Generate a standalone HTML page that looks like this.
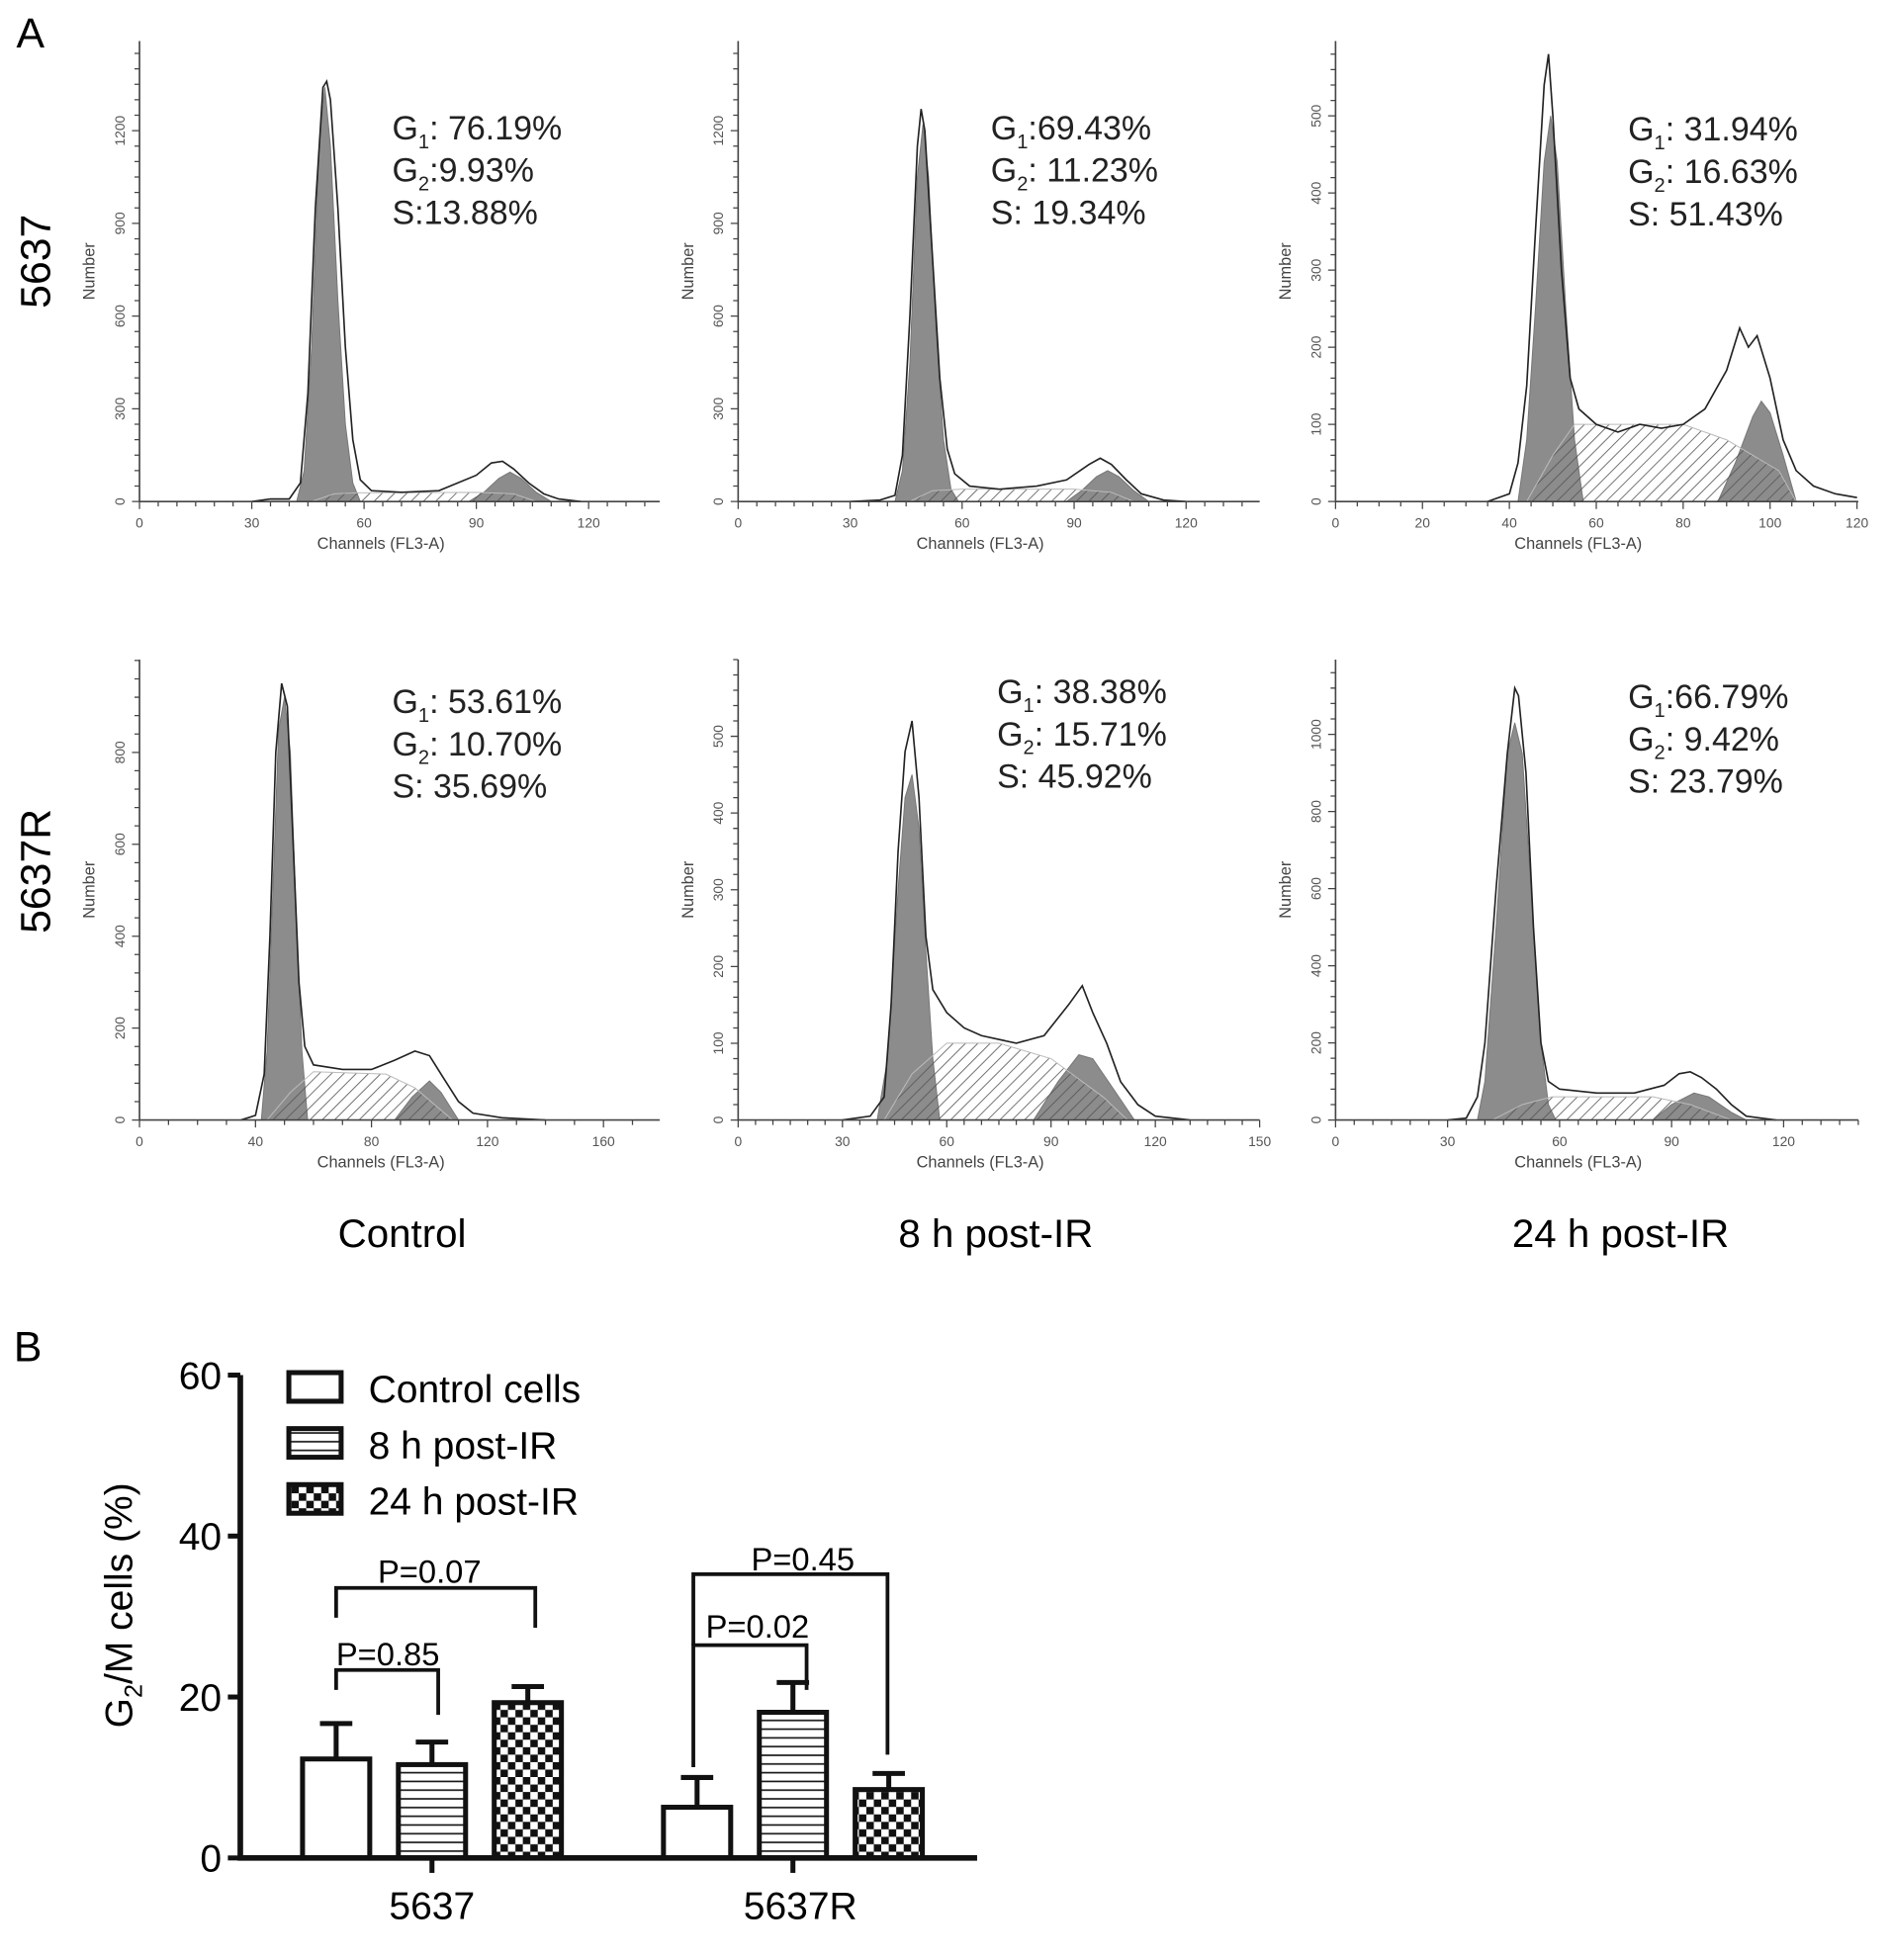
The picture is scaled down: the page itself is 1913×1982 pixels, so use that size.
<!DOCTYPE html>
<html><head><meta charset="utf-8">
<style>
html,body{margin:0;padding:0;background:#fff;}
svg{display:block;font-family:"Liberation Sans",Arial,sans-serif;}
</style></head>
<body>
<svg id="fig" width="1913" height="1982" viewBox="0 0 1520 1575" xmlns="http://www.w3.org/2000/svg">
<defs>
<pattern id="hatch" patternUnits="userSpaceOnUse" width="7" height="7" patternTransform="rotate(45)">
<line x1="0" y1="0" x2="0" y2="7" stroke="#555" stroke-width="1.3"/>
</pattern>
<pattern id="hlines" patternUnits="userSpaceOnUse" width="8" height="7">
<line x1="0" y1="3.5" x2="8" y2="3.5" stroke="#111" stroke-width="1.3"/>
</pattern>
<pattern id="checker" patternUnits="userSpaceOnUse" width="12" height="12">
<rect x="0" y="0" width="12" height="12" fill="#fff"/>
<rect x="0" y="0" width="6" height="6" fill="#111"/>
<rect x="6" y="6" width="6" height="6" fill="#111"/>
</pattern>
</defs>
<text x="13" y="38" font-size="34">A</text>
<text x="11" y="1094" font-size="34">B</text>
<text transform="translate(40,210) rotate(-90)" text-anchor="middle" font-size="34">5637</text>
<text transform="translate(40,700) rotate(-90)" text-anchor="middle" font-size="34">5637R</text>
<text x="323" y="1002" text-anchor="middle" font-size="32">Control</text>
<text x="800" y="1002" text-anchor="middle" font-size="32">8 h post-IR</text>
<text x="1302" y="1002" text-anchor="middle" font-size="32">24 h post-IR</text>
<g id="hists"></g>
<g id="bars"></g>
</svg>
<script>
// ---------- Histogram data (channel, count) ----------
const p1Outline=[[30,0],[35,8],[40,8],[43,60],[45,350],[47,950],[49,1340],[50,1360],[51,1300],[53,950],[55,500],[57,200],[59,70],[62,35],[70,30],[80,35],[85,60],[90,85],[94,125],[97,130],[100,105],[104,60],[108,25],[112,8],[118,0]];
const p1G1=[[42,0],[44,100],[46,500],[48,1150],[49.5,1340],[51,1150],[53,650],[55,250],[57,60],[59,0]];
const p1G2=[[88,0],[92,30],[96,75],[99,95],[102,75],[106,30],[110,0]];
const p1S=[[46,0],[52,25],[58,28],[90,30],[100,25],[106,0]];
const p2Outline=[[30,0],[38,5],[42,20],[44,150],[46,600],[48,1150],[49,1270],[50,1200],[52,800],[54,400],[56,170],[58,90],[62,50],[70,40],[80,50],[88,70],[94,120],[97,140],[100,120],[104,70],[108,25],[114,5],[120,0]];
const p2G1=[[42,0],[44,100],[46,450],[48,1050],[49.5,1220],[51,1050],[53,550],[55,200],[57,40],[59,0]];
const p2G2=[[88,0],[92,35],[96,80],[99,100],[102,80],[106,35],[110,0]];
const p2S=[[46,0],[52,35],[60,40],[90,40],[100,30],[106,0]];
const p3Outline=[[35,0],[40,10],[42,50],[44,150],[46,350],[48,540],[49,580],[50,500],[52,300],[54,160],[56,120],[60,100],[65,90],[70,100],[75,95],[80,100],[85,120],[90,170],[93,225],[95,200],[97,215],[100,160],[103,80],[106,40],[110,20],[115,10],[120,5]];
const p3G1=[[42,0],[44,80],[46,250],[48,440],[49.5,500],[51,440],[53,250],[55,80],[57,0]];
const p3G2=[[88,0],[92,50],[96,110],[98,130],[100,115],[103,60],[106,0]];
const p3S=[[44,0],[50,60],[55,100],[80,100],[90,80],[102,40],[106,0]];
const p4Outline=[[35,0],[40,10],[43,100],[45,400],[47,800],[49,950],[51,900],[53,600],[55,300],[57,160],[60,120],[70,110],[80,110],[88,130],[95,150],[100,140],[105,90],[110,40],[115,15],[125,5],[140,0]];
const p4G1=[[42,0],[44,150],[46,500],[48,850],[50,920],[52,800],[54,450],[56,150],[58,0]];
const p4G2=[[88,0],[94,50],[100,85],[104,60],[110,0]];
const p4S=[[44,0],[52,60],[60,105],[85,100],[95,70],[108,0]];
const p5Outline=[[30,0],[38,5],[42,30],[44,150],[46,350],[48,480],[50,520],[52,420],[54,240],[56,170],[60,140],[65,120],[70,110],[80,100],[88,110],[95,150],[99,175],[102,140],[106,100],[110,50],[115,20],[120,5],[130,0]];
const p5G1=[[40,0],[43,80],[46,300],[48,420],[50,450],[52,380],[54,220],[56,80],[58,0]];
const p5G2=[[85,0],[92,50],[98,85],[102,80],[108,40],[114,0]];
const p5S=[[42,0],[50,60],[60,100],[75,100],[90,80],[105,30],[112,0]];
const p6Outline=[[30,0],[35,5],[38,60],[40,200],[43,600],[46,950],[48,1120],[49,1100],[51,900],[53,500],[55,200],[57,100],[60,80],[70,70],[80,70],[88,90],[92,120],[95,125],[98,110],[102,80],[106,40],[110,10],[118,0]];
const p6G1=[[38,0],[40,100],[43,500],[46,950],[48,1030],[50,950],[53,500],[55,200],[57,40],[59,0]];
const p6G2=[[85,0],[90,40],[96,70],[100,60],[106,20],[110,0]];
const p6S=[[42,0],[50,40],[58,60],[85,60],[95,40],[106,0]];
// tick labels
const xTicks1=[0,30,60,90,120];
const xTicks3=[0,20,40,60,80,100,120];
const xTicks4=[0,40,80,120,160];
const xTicks5=[0,30,60,90,120,150];
const yTicks1=[0,300,600,900,1200];
const yTicks3=[0,100,200,300,400,500];
const yTicks4=[0,200,400,600,800];
const yTicks6=[0,200,400,600,800,1000];
const stats1=["G|1|: 76.19%","G|2|:9.93%","S:13.88%"];
const stats2=["G|1|:69.43%","G|2|: 11.23%","S: 19.34%"];
const stats3=["G|1|: 31.94%","G|2|: 16.63%","S: 51.43%"];
const stats4=["G|1|: 53.61%","G|2|: 10.70%","S: 35.69%"];
const stats5=["G|1|: 38.38%","G|2|: 15.71%","S: 45.92%"];
const stats6=["G|1|:66.79%","G|2|: 9.42%","S: 23.79%"];

const NS="http://www.w3.org/2000/svg";
function mk(tag,attrs,parent){const e=document.createElementNS(NS,tag);for(const k in attrs)e.setAttribute(k,attrs[k]);if(parent)parent.appendChild(e);return e;}

const panels=[
 {name:'5637-control',ox:112,oy:403,top:33,right:530,xmax:139,ymax:1490,xt:xTicks1,xminor:5,yt:yTicks1,yminor:50,out:p1Outline,g1:p1G1,g2:p1G2,s:p1S,st:stats1,tx:315,ty:112},
 {name:'5637-8h',ox:593,oy:403,top:33,right:1012,xmax:139.7,ymax:1490,xt:xTicks1,xminor:5,yt:yTicks1,yminor:50,out:p2Outline,g1:p2G1,g2:p2G2,s:p2S,st:stats2,tx:796,ty:112},
 {name:'5637-24h',ox:1073,oy:403,top:33,right:1493,xmax:120.3,ymax:597,xt:xTicks3,xminor:5,yt:yTicks3,yminor:20,out:p3Outline,g1:p3G1,g2:p3G2,s:p3S,st:stats3,tx:1308,ty:113},
 {name:'5637r-control',ox:112,oy:900,top:530,right:530,xmax:179.4,ymax:1002,xt:xTicks4,xminor:10,yt:yTicks4,yminor:40,out:p4Outline,g1:p4G1,g2:p4G2,s:p4S,st:stats4,tx:315,ty:573},
 {name:'5637r-8h',ox:593,oy:900,top:530,right:1012,xmax:150,ymax:600,xt:xTicks5,xminor:5,yt:yTicks3,yminor:20,out:p5Outline,g1:p5G1,g2:p5G2,s:p5S,st:stats5,tx:801,ty:565},
 {name:'5637r-24h',ox:1073,oy:900,top:530,right:1493,xmax:140,ymax:1194,xt:xTicks1,xminor:5,yt:yTicks6,yminor:40,out:p6Outline,g1:p6G1,g2:p6G2,s:p6S,st:stats6,tx:1308,ty:569}
];
const hg=document.getElementById('hists');
panels.forEach(p=>{
 const g=mk('g',{},hg);
 
 
 const sx=v=>p.ox+v/p.xmax*(p.right-p.ox);
 const sy=v=>p.oy-v/p.ymax*(p.oy-p.top);
 const path=pts=>'M'+pts.map(d=>sx(d[0]).toFixed(1)+','+sy(d[1]).toFixed(1)).join('L');
 const a=mk('path',{d:path(p.g1)+'Z',fill:'#8c8c8c',stroke:'#777','stroke-width':0.8},g);
 
 const b=mk('path',{d:path(p.g2)+'Z',fill:'#8c8c8c',stroke:'#777','stroke-width':0.8},g);
 
 const c=mk('path',{d:path(p.s)+'Z',fill:'url(#hatch)',stroke:'#bbb','stroke-width':0.8},g);
 
 const o=mk('path',{d:path(p.out),fill:'none',stroke:'#222','stroke-width':1.3},g);
 
 const ax=mk('path',{d:`M${p.ox},${p.top}V${p.oy}H${p.right}`,fill:'none',stroke:'#444','stroke-width':1.3},g);
 
 let ticks='';
 for(let v=0;v<=p.xmax;v+=p.xminor){const X=sx(v);ticks+=`M${X},${p.oy}v${p.xt.includes(v)?6:4}`;}
 for(let v=0;v<=p.ymax;v+=p.yminor){const Y=sy(v);ticks+=`M${p.ox},${Y}h${p.yt.includes(v)?-6:-4}`;}
 mk('path',{d:ticks,stroke:'#444','stroke-width':1},g);
 p.xt.forEach(v=>{const t=mk('text',{x:sx(v),y:p.oy+21,'text-anchor':'middle','font-size':11,fill:'#555'},g);t.textContent=v;
  });
 p.yt.forEach(v=>{const t=mk('text',{transform:`translate(${p.ox-12},${sy(v)}) rotate(-90)`,'text-anchor':'middle','font-size':11,fill:'#555'},g);t.textContent=v;
  });
 const xt=mk('text',{x:(p.ox+p.right)/2-15,y:p.oy+38,'text-anchor':'middle','font-size':13,fill:'#444'},g);xt.textContent='Channels (FL3-A)';
 
 const yt=mk('text',{transform:`translate(${p.ox-36},${(p.top+p.oy)/2}) rotate(-90)`,'text-anchor':'middle','font-size':13,fill:'#444'},g);yt.textContent='Number';
 
 p.st.forEach((s,i)=>{
  const t=mk('text',{x:p.tx,y:p.ty+i*34,'font-size':27,fill:'#222'},g);
  
  const parts=s.split('|');
  if(parts.length===3){
   const a1=mk('tspan',{},t);a1.textContent=parts[0];
   const a2=mk('tspan',{dy:7,'font-size':16},t);a2.textContent=parts[1];
   const a3=mk('tspan',{dy:-7},t);a3.textContent=parts[2];
  } else t.textContent=s;
 });
});

// ---------- Bar chart B ----------
const groups=['5637','5637R'];
const seriesNames=['Control cells','8 h post-IR','24 h post-IR'];
const meanControl=[12.3,6.3];
const mean8h=[11.6,18.1];
const mean24h=[19.3,8.5];
const errControl=[4.4,3.7];
const err8h=[2.8,3.7];
const err24h=[2.0,2.0];
const yTicksB=[0,20,40,60];
const pLabels=['P=0.85','P=0.07','P=0.02','P=0.45'];

const bg=document.getElementById('bars');
const X0=193,Y0=1493,YT=1105,XR=785;
const yS=v=>Y0-v/60*(Y0-YT);
const groupCenter=[347,637];
const offsets=[-77,0,77],bw=54;
const fills=['#fff','url(#hlines)','url(#checker)'];
const means=[meanControl,mean8h,mean24h],errs=[errControl,err8h,err24h];
means.forEach((m,si)=>m.forEach((v,gi)=>{
 const cx=groupCenter[gi]+offsets[si];
 const x=cx-bw/2;
 const e=mk('line',{x1:cx,x2:cx,y1:yS(v),y2:yS(v+errs[si][gi]),stroke:'#111','stroke-width':4},bg);
 
 const cap=mk('line',{x1:cx-13,x2:cx+13,y1:yS(v+errs[si][gi]),y2:yS(v+errs[si][gi]),stroke:'#111','stroke-width':4},bg);
 
 const r=mk('rect',{x:x,y:yS(v),width:bw,height:Y0-yS(v),fill:fills[si],stroke:'#111','stroke-width':4},bg);
 
}));
const axB=mk('path',{d:`M${X0},${YT}V${Y0}H${XR}`,fill:'none',stroke:'#111','stroke-width':4.5},bg);

yTicksB.forEach(v=>{
 mk('line',{x1:X0-10,x2:X0,y1:yS(v),y2:yS(v),stroke:'#111','stroke-width':4},bg);
 const t=mk('text',{x:X0-15,y:yS(v)+11,'text-anchor':'end','font-size':31},bg);t.textContent=v;
 
});
groups.forEach((gname,i)=>{
 mk('line',{x1:groupCenter[i],x2:groupCenter[i],y1:Y0,y2:Y0+12,stroke:'#111','stroke-width':4},bg);
 const t=mk('text',{x:groupCenter[i]+(i?6:0),y:1542,'text-anchor':'middle','font-size':31},bg);t.textContent=gname;
 
});
const ytB=mk('text',{transform:'translate(106,1290) rotate(-90)','text-anchor':'middle','font-size':31},bg);

{const a=mk('tspan',{},ytB);a.textContent='G';const b=mk('tspan',{dy:8,'font-size':20},ytB);b.textContent='2';const c=mk('tspan',{dy:-8},ytB);c.textContent='/M cells (%)';}
seriesNames.forEach((n,i)=>{
 const y=1103+i*45;
 const r=mk('rect',{x:232,y:y,width:42,height:23,fill:fills[i],stroke:'#111','stroke-width':4},bg);
 
 const t=mk('text',{x:296,y:y+24,'font-size':31},bg);t.textContent=n;
 
});
const br=[
 {l:270,r:352,y:1342,ly:1358,ry:1378,tx:270,ty:1338,lab:pLabels[0],anchor:'start'},
 {l:270,r:430,y:1276,ly:1300,ry:1308,tx:345,ty:1272,lab:pLabels[1],anchor:'middle'},
 {l:557,r:648,y:1322,ly:1420,ry:1358,tx:567,ty:1316,lab:pLabels[2],anchor:'start'},
 {l:557,r:713,y:1265,ly:1322,ry:1410,tx:645,ty:1262,lab:pLabels[3],anchor:'middle'}
];
br.forEach(b=>{
 const p=mk('path',{d:`M${b.l},${b.ly}V${b.y}H${b.r}V${b.ry}`,fill:'none',stroke:'#111','stroke-width':3},bg);
 
 const t=mk('text',{x:b.tx,y:b.ty,'text-anchor':b.anchor,'font-size':26},bg);t.textContent=b.lab;
 
});
</script>
</body></html>
